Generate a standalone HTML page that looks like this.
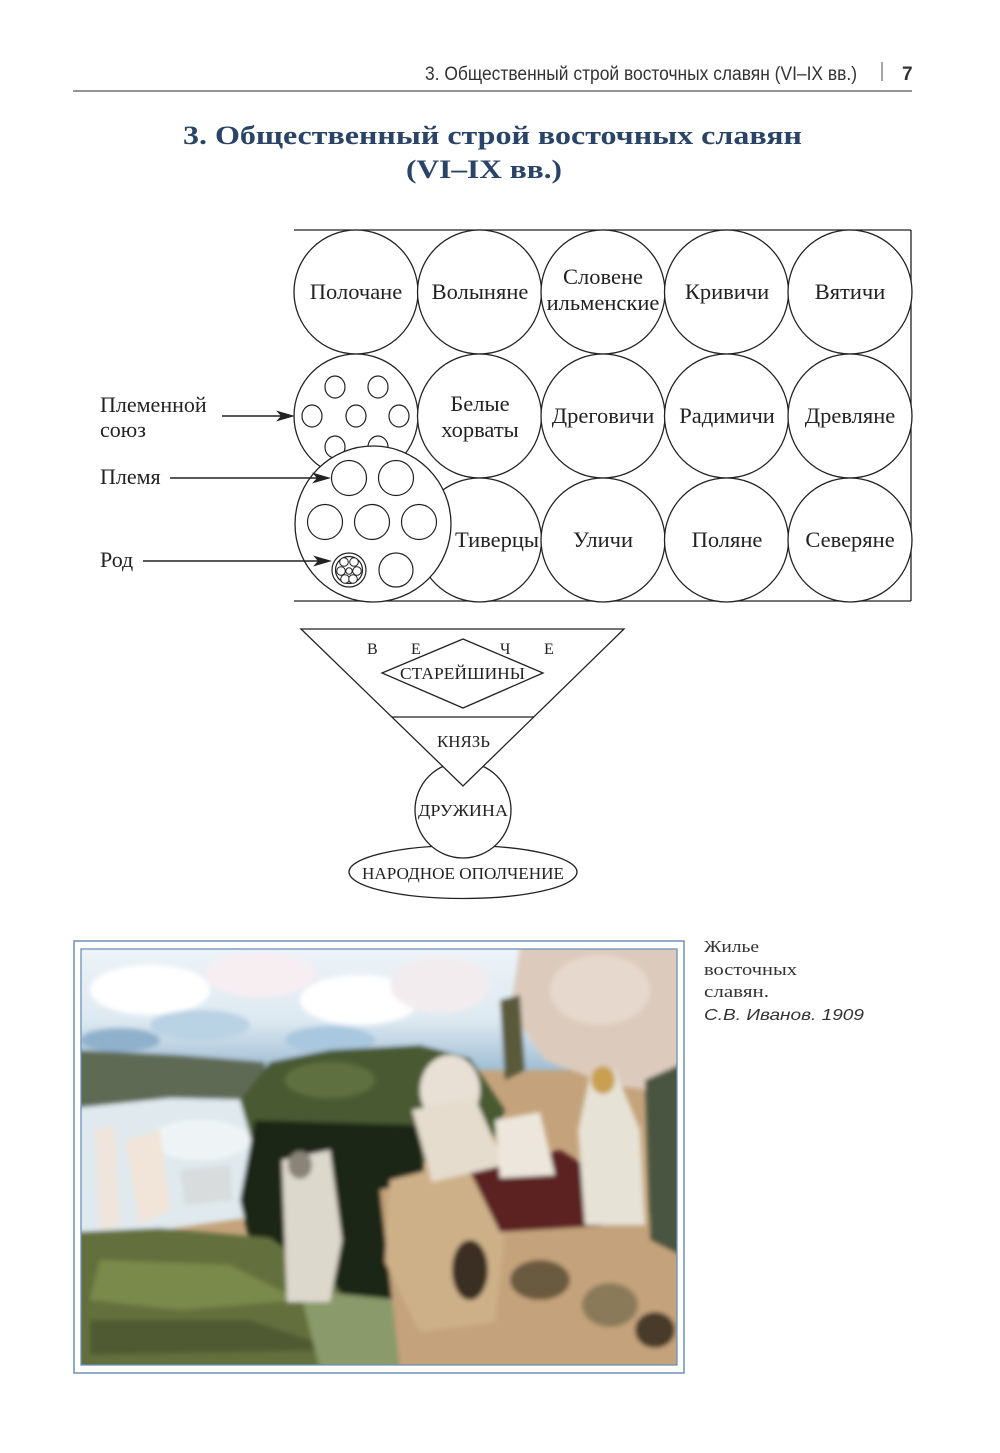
<!DOCTYPE html>
<html>
<head>
<meta charset="utf-8">
<style>
html,body{margin:0;padding:0;background:#fff;}
svg{display:block;}
.s{font-family:"Liberation Serif","Noto Serif CJK SC",serif;}
.a{font-family:"Liberation Sans","Noto Sans CJK SC",sans-serif;}
</style>
</head>
<body>
<svg width="1000" height="1453" viewBox="0 0 1000 1453" xmlns="http://www.w3.org/2000/svg">
<rect width="1000" height="1453" fill="#ffffff"/>

<!-- Header -->
<text class="a" x="425" y="80" font-size="19" fill="#333" textLength="432" lengthAdjust="spacingAndGlyphs">3. Общественный строй восточных славян (VI–IX вв.)</text>
<line x1="882" y1="62" x2="882" y2="81" stroke="#666" stroke-width="1.2"/>
<text class="a" x="902" y="80" font-size="19" font-weight="bold" fill="#333">7</text>
<line x1="73" y1="91" x2="912" y2="91" stroke="#555" stroke-width="1.3"/>

<!-- Title -->
<text class="s" x="183" y="144" font-size="26" font-weight="bold" fill="#2a4468" textLength="619" lengthAdjust="spacingAndGlyphs">3. Общественный строй восточных славян</text>
<text class="s" x="406" y="178" font-size="26" font-weight="bold" fill="#2a4468" textLength="156" lengthAdjust="spacingAndGlyphs">(VI–IX вв.)</text>

<!-- Diagram box -->
<g stroke="#222" stroke-width="1.3" fill="none">
  <line x1="294" y1="230" x2="911" y2="230"/>
  <line x1="911" y1="230" x2="911" y2="601"/>
  <line x1="294" y1="601" x2="911" y2="601"/>
</g>

<g stroke="#222" stroke-width="1.3" fill="#fff">
  <circle cx="356" cy="292" r="62"/>
  <circle cx="479.5" cy="292" r="62"/>
  <circle cx="603" cy="292" r="62"/>
  <circle cx="726.5" cy="292" r="62"/>
  <circle cx="850" cy="292" r="62"/>
  <circle cx="356" cy="416" r="62"/>
  <circle cx="479.5" cy="416" r="62"/>
  <circle cx="603" cy="416" r="62"/>
  <circle cx="726.5" cy="416" r="62"/>
  <circle cx="850" cy="416" r="62"/>
  <circle cx="479.5" cy="540" r="62"/>
  <circle cx="603" cy="540" r="62"/>
  <circle cx="726.5" cy="540" r="62"/>
  <circle cx="850" cy="540" r="62"/>
</g>

<g stroke="#222" stroke-width="1.2" fill="#fff">
  <ellipse cx="335" cy="387" rx="10" ry="11"/>
  <ellipse cx="378" cy="387" rx="10" ry="11"/>
  <ellipse cx="312" cy="416" rx="10" ry="11"/>
  <ellipse cx="356" cy="416" rx="10" ry="11"/>
  <ellipse cx="399" cy="416" rx="10" ry="11"/>
  <ellipse cx="335" cy="447" rx="10" ry="11"/>
  <ellipse cx="378" cy="447" rx="10" ry="11"/>
</g>

<g stroke="#222" stroke-width="1.3" fill="#fff">
  <circle cx="373" cy="524" r="78"/>
</g>
<g stroke="#222" stroke-width="1.2" fill="#fff">
  <circle cx="349" cy="478" r="17.5"/>
  <circle cx="396" cy="478" r="17.5"/>
  <circle cx="325" cy="522" r="17.5"/>
  <circle cx="372" cy="522" r="17.5"/>
  <circle cx="419" cy="522" r="17.5"/>
  <circle cx="349" cy="570" r="17"/>
  <circle cx="396" cy="570" r="17"/>
  <circle cx="349" cy="570" r="13.5"/>
</g>
<g stroke="#222" stroke-width="1" fill="#fff">
  <circle cx="344" cy="562" r="4.3"/>
  <circle cx="354" cy="562" r="4.3"/>
  <circle cx="341" cy="571" r="4.3"/>
  <circle cx="357" cy="571" r="4.3"/>
  <circle cx="345" cy="579" r="4.3"/>
  <circle cx="353" cy="579" r="4.3"/>
  <circle cx="349" cy="571" r="3.2"/>
</g>

<g class="s" font-size="22.5" fill="#222" text-anchor="middle">
  <text x="356" y="299">Полочане</text>
  <text x="480" y="299">Волыняне</text>
  <text x="603" y="284">Словене</text>
  <text x="603" y="310">ильменские</text>
  <text x="727" y="299">Кривичи</text>
  <text x="850" y="299">Вятичи</text>
  <text x="480" y="411">Белые</text>
  <text x="480" y="437">хорваты</text>
  <text x="603" y="423">Дреговичи</text>
  <text x="727" y="423">Радимичи</text>
  <text x="850" y="423">Древляне</text>
  <text x="497" y="547">Тиверцы</text>
  <text x="603" y="547">Уличи</text>
  <text x="727" y="547">Поляне</text>
  <text x="850" y="547">Северяне</text>
</g>

<g class="s" font-size="22" fill="#222">
  <text x="100" y="412">Племенной</text>
  <text x="100" y="437">союз</text>
  <text x="100" y="484">Племя</text>
  <text x="100" y="567">Род</text>
</g>

<g stroke="#222" stroke-width="1.4">
  <line x1="222" y1="416" x2="283" y2="416"/>
  <line x1="170" y1="478" x2="320" y2="478"/>
  <line x1="143" y1="561" x2="321" y2="561"/>
</g>
<g fill="#222">
  <polygon points="295,416 276,410.5 281,416 276,421.5"/>
  <polygon points="331,478 312,472.5 317,478 312,483.5"/>
  <polygon points="332,561 313,555.5 318,561 313,566.5"/>
</g>

<g stroke="#222" stroke-width="1.3">
  <ellipse cx="463" cy="872" rx="114" ry="26.5" fill="#fff"/>
  <circle cx="463" cy="810" r="48" fill="#fff"/>
  <polygon points="301,629 624,629 463,786" fill="#fff"/>
  <line x1="392" y1="717" x2="534" y2="717"/>
  <polygon points="382,673 463,639 543,673 463,708" fill="#fff"/>
</g>
<g class="s" fill="#222">
  <text x="367" y="654" font-size="16">В</text>
  <text x="411" y="654" font-size="16">Е</text>
  <text x="500" y="654" font-size="16">Ч</text>
  <text x="544" y="654" font-size="16">Е</text>
  <text x="400" y="679" font-size="16.5" textLength="125" lengthAdjust="spacingAndGlyphs">СТАРЕЙШИНЫ</text>
  <text x="437" y="747" font-size="16.5" textLength="53" lengthAdjust="spacingAndGlyphs">КНЯЗЬ</text>
  <text x="418" y="816" font-size="16.5" textLength="90" lengthAdjust="spacingAndGlyphs">ДРУЖИНА</text>
  <text x="362" y="879" font-size="16.5" textLength="202" lengthAdjust="spacingAndGlyphs">НАРОДНОЕ ОПОЛЧЕНИЕ</text>
</g>

<defs>
  <clipPath id="pc"><rect x="81" y="949" width="596" height="416"/></clipPath>
  <filter id="bl" x="-5%" y="-5%" width="110%" height="110%"><feGaussianBlur stdDeviation="2.5"/></filter>
  <linearGradient id="sky" x1="0" y1="0" x2="0" y2="1">
    <stop offset="0" stop-color="#eef4f8"/>
    <stop offset="0.6" stop-color="#dde9f1"/>
    <stop offset="1" stop-color="#9fbdd4"/>
  </linearGradient>
</defs>
<g clip-path="url(#pc)">
  <rect x="81" y="949" width="596" height="416" fill="#c4a37c"/>
  <g filter="url(#bl)">
    <rect x="75" y="945" width="610" height="125" fill="url(#sky)"/>
    <ellipse cx="150" cy="990" rx="60" ry="25" fill="#ffffff"/>
    <ellipse cx="260" cy="975" rx="55" ry="22" fill="#f7eef2"/>
    <ellipse cx="360" cy="1000" rx="60" ry="25" fill="#ffffff"/>
    <ellipse cx="200" cy="1025" rx="50" ry="15" fill="#b9d2e4"/>
    <ellipse cx="330" cy="1040" rx="45" ry="14" fill="#a9c7de"/>
    <ellipse cx="440" cy="985" rx="50" ry="28" fill="#f2ecef"/>
    <ellipse cx="120" cy="1040" rx="40" ry="12" fill="#8fb1cc"/>
    <polygon points="520,945 690,945 690,1095 610,1085 545,1060 510,1010" fill="#dccbbd"/>
    <ellipse cx="600" cy="990" rx="50" ry="35" fill="#e6d8cc"/>
    <polygon points="75,1050 180,1055 265,1062 262,1110 75,1112" fill="#5e6a55"/>
    <polygon points="75,1108 170,1098 265,1100 268,1215 160,1230 75,1232" fill="#dfe9ee"/>
    <ellipse cx="200" cy="1140" rx="50" ry="20" fill="#eef4f6"/>
    <polygon points="240,1100 270,1062 330,1050 420,1045 470,1058 505,1110 485,1160 260,1170" fill="#4a5a30"/>
    <ellipse cx="330" cy="1080" rx="45" ry="18" fill="#5f7040"/>
    <polygon points="255,1120 420,1125 430,1260 390,1330 262,1295 240,1200" fill="#1f2519"/>
    <polygon points="75,1232 160,1228 270,1238 335,1285 395,1370 75,1370" fill="#63703c"/>
    <polygon points="100,1260 230,1265 300,1300 180,1310 90,1300" fill="#7a8a4c"/>
    <polygon points="90,1320 250,1320 340,1350 90,1355" fill="#4f5a30"/>
    <polygon points="300,1290 400,1300 455,1370 320,1370" fill="#8a9a6a"/>
    <polygon points="380,1190 470,1170 600,1200 690,1230 690,1370 400,1370" fill="#c4a37c"/>
    <polygon points="390,1180 470,1160 505,1230 495,1322 420,1332 385,1262" fill="#cdb088"/>
    <polygon points="470,1172 560,1150 612,1182 602,1226 500,1232" fill="#5c2222"/>
    <ellipse cx="450" cy="1090" rx="30" ry="35" fill="#e8e0d4"/>
    <polygon points="412,1110 475,1098 505,1165 432,1182" fill="#e5dccd"/>
    <polygon points="495,1120 540,1112 555,1175 500,1178" fill="#ece6dc"/>
    <polygon points="590,1075 615,1070 640,1130 645,1225 585,1225 578,1130" fill="#e6e2d6"/>
    <ellipse cx="603" cy="1080" rx="12" ry="14" fill="#c9a050"/>
    <polygon points="645,1080 690,1060 690,1260 650,1240" fill="#4a5540"/>
    <polygon points="282,1160 330,1150 342,1240 330,1302 287,1302" fill="#ddd8cc"/>
    <ellipse cx="300" cy="1165" rx="12" ry="14" fill="#8a8478"/>
    <polygon points="95,1130 115,1125 120,1225 100,1230" fill="#efe5dc"/>
    <polygon points="125,1140 160,1130 170,1210 140,1225" fill="#f1e4d8"/>
    <polygon points="180,1170 230,1165 232,1200 185,1205" fill="#d8dcdc"/>
    <polygon points="500,1000 520,995 525,1070 505,1080" fill="#5a5a3a"/>
    <ellipse cx="540" cy="1280" rx="30" ry="20" fill="#6b5a40"/>
    <ellipse cx="610" cy="1305" rx="28" ry="22" fill="#8a7a5a"/>
    <ellipse cx="470" cy="1270" rx="18" ry="30" fill="#3a2e22"/>
    <ellipse cx="655" cy="1330" rx="20" ry="18" fill="#4a3a2a"/>
  </g>
</g>
<rect x="74" y="941" width="610" height="432" fill="none" stroke="#6f90b8" stroke-width="1.5"/>
<rect x="81" y="949" width="596" height="416" fill="none" stroke="#6f90b8" stroke-width="1.3"/>

<g fill="#333">
  <text class="s" x="704" y="952" font-size="17" textLength="55" lengthAdjust="spacingAndGlyphs">Жилье</text>
  <text class="s" x="704" y="975" font-size="17" textLength="93" lengthAdjust="spacingAndGlyphs">восточных</text>
  <text class="s" x="704" y="997" font-size="17" textLength="65" lengthAdjust="spacingAndGlyphs">славян.</text>
  <text class="a" x="704" y="1020" font-size="16" font-style="italic" textLength="160" lengthAdjust="spacingAndGlyphs">С.В. Иванов. 1909</text>
</g>
</svg>
</body>
</html>
